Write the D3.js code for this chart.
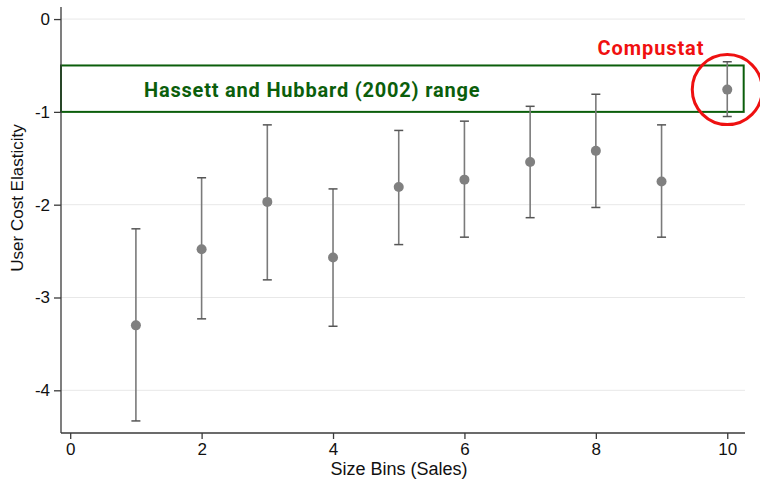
<!DOCTYPE html>
<html>
<head>
<meta charset="utf-8">
<script src="https://cdn.jsdelivr.net/npm/d3@7"></script>
<style>
  body { margin: 0; background: #fff; }
  text { font-family: "Liberation Sans", Arial, sans-serif; }
</style>
</head>
<body>
<div id="chart"></div>
<script>
// Size bins and estimated elasticities with confidence bounds
const bins = [1, 2, 3, 4, 5, 6, 7, 8, 9, 10];
const estimates = [-3.30, -2.48, -1.97, -2.57, -1.81, -1.73, -1.54, -1.42, -1.75, -0.76];
const lower = [-4.33, -3.23, -2.81, -3.31, -2.43, -2.35, -2.14, -2.03, -2.35, -1.05];
const upper = [-2.26, -1.71, -1.14, -1.83, -1.20, -1.10, -0.94, -0.81, -1.14, -0.46];
const xTicks = [0, 2, 4, 6, 8, 10];
const yTicks = [0, -1, -2, -3, -4];
const rangeBand = [-1, -0.5]; // Hassett and Hubbard (2002) range
const rangeRight = 10.25;

const data = bins.map((b, i) => ({ bin: b, est: estimates[i], lo: lower[i], hi: upper[i] }));

const width = 760, height = 480;
const margin = { top: 7, right: 15, bottom: 47, left: 61 };

const svg = d3.select("#chart")
    .append("svg")
    .attr("width", width)
    .attr("height", height);

// Scales
const x = d3.scaleLinear()
    .domain([-0.14, 10.27])
    .range([margin.left, width - margin.right]);

const y = d3.scaleLinear()
    .domain([-4.46, 0.13])
    .range([height - margin.bottom, margin.top]);

// Grid lines
svg.append("g")
    .selectAll("line")
    .data(yTicks)
    .enter()
    .append("line")
    .attr("x1", margin.left)
    .attr("x2", width - margin.right)
    .attr("y1", d => y(d))
    .attr("y2", d => y(d))
    .attr("stroke", "#e8e8e8")
    .attr("stroke-width", 1);

// Green range box
svg.append("rect")
    .attr("x", x(x.domain()[0]))
    .attr("y", y(rangeBand[1]))
    .attr("width", x(rangeRight) - x(x.domain()[0]))
    .attr("height", y(rangeBand[0]) - y(rangeBand[1]))
    .attr("fill", "none")
    .attr("stroke", "#0b5e0b")
    .attr("stroke-width", 2);

svg.append("text")
    .attr("x", 144)
    .attr("y", 97)
    .attr("fill", "#0b5e0b")
    .attr("font-weight", "bold")
    .attr("font-size", "20px")
    .attr("letter-spacing", "0.8px")
    .style("font-family", "Roboto, 'DejaVu Sans', sans-serif")
    .text("Hassett and Hubbard (2002) range");

// Error bars
const bars = svg.append("g");
bars.selectAll(".ci")
    .data(data)
    .enter()
    .append("line")
    .attr("x1", d => x(d.bin))
    .attr("x2", d => x(d.bin))
    .attr("y1", d => y(d.lo))
    .attr("y2", d => y(d.hi))
    .attr("stroke", "#7a7a7a")
    .attr("stroke-width", 1.6);

["lo", "hi"].forEach(k => {
    bars.selectAll(".cap-" + k)
        .data(data)
        .enter()
        .append("line")
        .attr("x1", d => x(d.bin) - 4.5)
        .attr("x2", d => x(d.bin) + 4.5)
        .attr("y1", d => y(d[k]))
        .attr("y2", d => y(d[k]))
        .attr("stroke", "#555")
        .attr("stroke-width", 1.5);
});

// Point estimates
svg.selectAll(".dot")
    .data(data)
    .enter()
    .append("circle")
    .attr("cx", d => x(d.bin))
    .attr("cy", d => y(d.est))
    .attr("r", 5)
    .attr("fill", "#808080");

// Axes
const xAxis = svg.append("g")
    .attr("transform", `translate(0,${height - margin.bottom})`)
    .call(d3.axisBottom(x).tickValues(xTicks).tickSize(6).tickPadding(4).tickFormat(d3.format("d")));

const yAxis = svg.append("g")
    .attr("transform", `translate(${margin.left},0)`)
    .call(d3.axisLeft(y).tickValues(yTicks).tickSize(7).tickPadding(4).tickFormat(d3.format("d")));

[xAxis, yAxis].forEach(g => {
    g.select(".domain").attr("stroke", "#3a3a3a").attr("stroke-width", 1.3);
    g.selectAll(".tick line").attr("stroke", "#3a3a3a").attr("stroke-width", 1.3);
    g.selectAll(".tick text")
        .attr("fill", "#111")
        .style("font-size", "17px")
        .style("font-family", "'Liberation Sans', Arial, sans-serif");
});
// y axis tick labels use a hyphen-like minus as in the reference
yAxis.selectAll(".tick text").text(d => d < 0 ? "-" + Math.abs(d) : d);
xAxis.select(".domain").attr("d", `M${margin.left},0H${width - margin.right}`);
yAxis.select(".domain").attr("d", `M0,${margin.top}V${height - margin.bottom}`);

// Axis labels
svg.append("text")
    .attr("x", 399)
    .attr("y", 475)
    .attr("text-anchor", "middle")
    .attr("font-size", "18px")
    .attr("fill", "#111")
    .text("Size Bins (Sales)");

svg.append("text")
    .attr("transform", "rotate(-90)")
    .attr("x", -198)
    .attr("y", 23)
    .attr("text-anchor", "middle")
    .attr("font-size", "17px")
    .attr("fill", "#111")
    .text("User Cost Elasticity");

// Compustat highlight
svg.append("circle")
    .attr("cx", x(10))
    .attr("cy", y(estimates[9]))
    .attr("r", 35)
    .attr("fill", "none")
    .attr("stroke", "#ee1111")
    .attr("stroke-width", 3);

svg.append("text")
    .attr("x", 651)
    .attr("y", 55)
    .attr("text-anchor", "middle")
    .attr("fill", "#f01010")
    .attr("font-weight", "bold")
    .attr("font-size", "20px")
    .attr("letter-spacing", "0.9px")
    .style("font-family", "Roboto, 'DejaVu Sans', sans-serif")
    .text("Compustat");
</script>
</body>
</html>
